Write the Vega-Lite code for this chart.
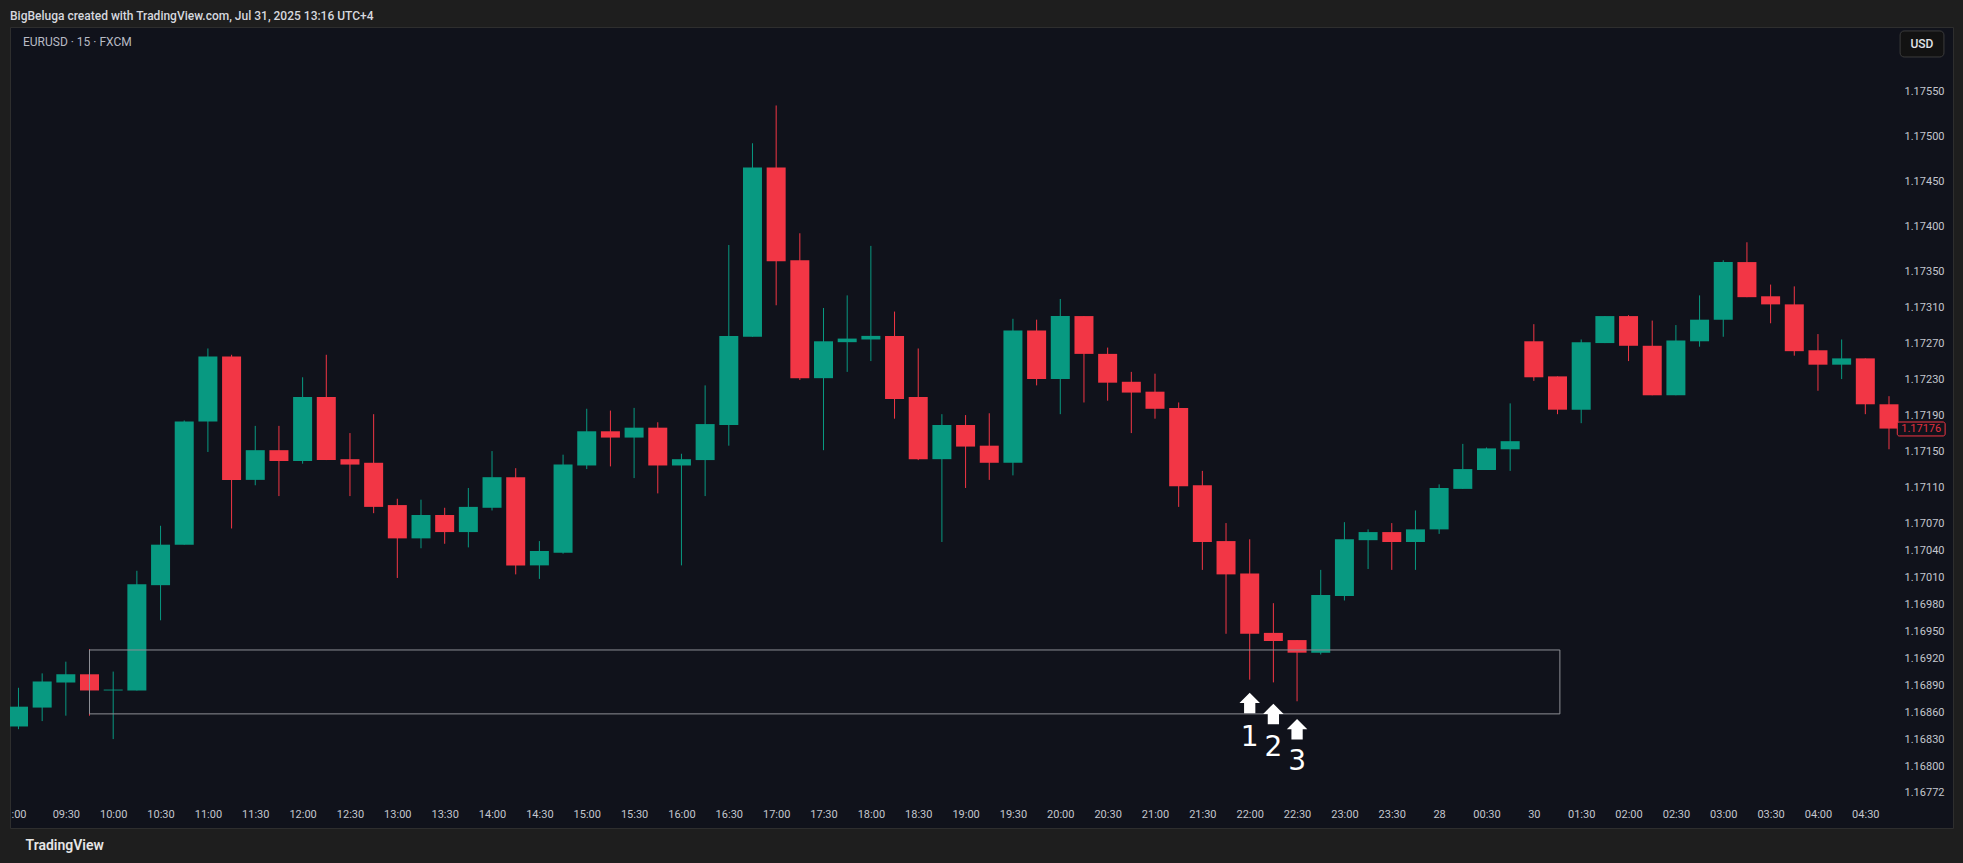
{
  "$schema": "https://vega.github.io/schema/vega-lite/v6.json",
  "autosize": {"type": "none"},
  "width": 1943,
  "height": 801,
  "padding": {"left": 10, "top": 27, "right": 10, "bottom": 35},
  "background": "#1e1e1e",
  "title": {
    "text": "BigBeluga created with TradingView.com, Jul 31, 2025 13:16 UTC+4",
    "anchor": "start",
    "frame": "group",
    "orient": "top",
    "offset": 7,
    "dy": 15,
    "baseline": "bottom",
    "font": "Roboto",
    "fontSize": 12,
    "fontWeight": 500,
    "color": "#d6d8de"
  },
  "config": {
    "view": {"fill": "#10121b", "stroke": "#2e2e2e", "strokeWidth": 1},
    "axis": {"grid": false, "domain": false, "ticks": false, "labelFont": "Roboto", "labelFontSize": 11, "labelColor": "#c3c6ce", "labelOverlap": false, "zindex": 1}
  },
  "datasets": {
    "bars": [
      {"i":0,"o":1.16845,"h":1.16888,"l":1.16842,"c":1.16867},
      {"i":1,"o":1.16866,"h":1.16904,"l":1.16851,"c":1.16895},
      {"i":2,"o":1.16894,"h":1.16917,"l":1.16857,"c":1.16903},
      {"i":3,"o":1.16903,"h":1.16931,"l":1.16857,"c":1.16885},
      {"i":4,"o":1.16885,"h":1.16906,"l":1.16831,"c":1.16886},
      {"i":5,"o":1.16885,"h":1.17018,"l":1.16885,"c":1.17003},
      {"i":6,"o":1.17002,"h":1.17068,"l":1.16963,"c":1.17047},
      {"i":7,"o":1.17047,"h":1.17185,"l":1.17047,"c":1.17184},
      {"i":8,"o":1.17184,"h":1.17265,"l":1.1715,"c":1.17256},
      {"i":9,"o":1.17256,"h":1.17258,"l":1.17065,"c":1.17119},
      {"i":10,"o":1.17119,"h":1.17179,"l":1.17113,"c":1.17152},
      {"i":11,"o":1.17152,"h":1.17179,"l":1.17101,"c":1.1714},
      {"i":12,"o":1.1714,"h":1.17233,"l":1.17137,"c":1.17211},
      {"i":13,"o":1.17211,"h":1.17258,"l":1.17141,"c":1.17141},
      {"i":14,"o":1.17142,"h":1.17171,"l":1.17101,"c":1.17136},
      {"i":15,"o":1.17138,"h":1.17192,"l":1.17082,"c":1.17089},
      {"i":16,"o":1.17091,"h":1.17098,"l":1.1701,"c":1.17054},
      {"i":17,"o":1.17054,"h":1.17097,"l":1.17043,"c":1.1708},
      {"i":18,"o":1.1708,"h":1.17088,"l":1.17048,"c":1.17061},
      {"i":19,"o":1.17061,"h":1.1711,"l":1.17044,"c":1.17089},
      {"i":20,"o":1.17088,"h":1.17151,"l":1.17085,"c":1.17122},
      {"i":21,"o":1.17122,"h":1.17132,"l":1.17014,"c":1.17024},
      {"i":22,"o":1.17024,"h":1.17051,"l":1.17009,"c":1.1704},
      {"i":23,"o":1.17038,"h":1.17147,"l":1.17037,"c":1.17136},
      {"i":24,"o":1.17135,"h":1.17198,"l":1.17131,"c":1.17173},
      {"i":25,"o":1.17173,"h":1.17196,"l":1.17134,"c":1.17166},
      {"i":26,"o":1.17166,"h":1.17199,"l":1.17121,"c":1.17177},
      {"i":27,"o":1.17177,"h":1.17183,"l":1.17104,"c":1.17135},
      {"i":28,"o":1.17135,"h":1.17148,"l":1.17024,"c":1.17142},
      {"i":29,"o":1.17141,"h":1.17224,"l":1.17101,"c":1.17181},
      {"i":30,"o":1.1718,"h":1.1738,"l":1.17157,"c":1.17279},
      {"i":31,"o":1.17278,"h":1.17493,"l":1.17278,"c":1.17466},
      {"i":32,"o":1.17466,"h":1.17535,"l":1.17313,"c":1.17362},
      {"i":33,"o":1.17363,"h":1.17393,"l":1.1723,"c":1.17232},
      {"i":34,"o":1.17232,"h":1.1731,"l":1.17152,"c":1.17273},
      {"i":35,"o":1.17272,"h":1.17324,"l":1.17239,"c":1.17276},
      {"i":36,"o":1.17275,"h":1.17379,"l":1.17251,"c":1.17279},
      {"i":37,"o":1.17279,"h":1.17306,"l":1.17187,"c":1.17209},
      {"i":38,"o":1.17211,"h":1.17265,"l":1.17141,"c":1.17142},
      {"i":39,"o":1.17142,"h":1.17192,"l":1.1705,"c":1.1718},
      {"i":40,"o":1.1718,"h":1.17191,"l":1.1711,"c":1.17156},
      {"i":41,"o":1.17157,"h":1.17193,"l":1.17119,"c":1.17138},
      {"i":42,"o":1.17138,"h":1.17298,"l":1.17124,"c":1.17285},
      {"i":43,"o":1.17285,"h":1.17297,"l":1.17224,"c":1.17231},
      {"i":44,"o":1.17231,"h":1.1732,"l":1.17192,"c":1.17301},
      {"i":45,"o":1.17301,"h":1.17301,"l":1.17205,"c":1.17259},
      {"i":46,"o":1.17259,"h":1.17266,"l":1.17207,"c":1.17227},
      {"i":47,"o":1.17228,"h":1.17239,"l":1.17171,"c":1.17216},
      {"i":48,"o":1.17217,"h":1.17237,"l":1.17187,"c":1.17198},
      {"i":49,"o":1.17199,"h":1.17205,"l":1.17089,"c":1.17112},
      {"i":50,"o":1.17113,"h":1.17129,"l":1.17019,"c":1.1705},
      {"i":51,"o":1.17051,"h":1.17071,"l":1.16948,"c":1.17014},
      {"i":52,"o":1.17015,"h":1.17053,"l":1.16897,"c":1.16948},
      {"i":53,"o":1.16949,"h":1.16982,"l":1.16894,"c":1.1694},
      {"i":54,"o":1.16941,"h":1.16941,"l":1.16873,"c":1.16927},
      {"i":55,"o":1.16927,"h":1.17019,"l":1.16925,"c":1.16991},
      {"i":56,"o":1.1699,"h":1.17072,"l":1.16985,"c":1.17053},
      {"i":57,"o":1.17052,"h":1.17064,"l":1.1702,"c":1.17061},
      {"i":58,"o":1.17061,"h":1.17071,"l":1.17019,"c":1.1705},
      {"i":59,"o":1.1705,"h":1.17085,"l":1.17019,"c":1.17064},
      {"i":60,"o":1.17064,"h":1.17114,"l":1.17059,"c":1.1711},
      {"i":61,"o":1.17109,"h":1.17159,"l":1.17109,"c":1.17131},
      {"i":62,"o":1.1713,"h":1.17155,"l":1.1713,"c":1.17154},
      {"i":63,"o":1.17153,"h":1.17204,"l":1.17129,"c":1.17162},
      {"i":64,"o":1.17273,"h":1.17292,"l":1.17229,"c":1.17233},
      {"i":65,"o":1.17234,"h":1.17234,"l":1.17192,"c":1.17197},
      {"i":66,"o":1.17197,"h":1.17275,"l":1.17182,"c":1.17272},
      {"i":67,"o":1.17271,"h":1.17301,"l":1.17271,"c":1.17301},
      {"i":68,"o":1.17301,"h":1.17302,"l":1.17251,"c":1.17268},
      {"i":69,"o":1.17268,"h":1.17296,"l":1.17213,"c":1.17213},
      {"i":70,"o":1.17213,"h":1.17291,"l":1.17213,"c":1.17274},
      {"i":71,"o":1.17273,"h":1.17324,"l":1.17267,"c":1.17297},
      {"i":72,"o":1.17297,"h":1.17363,"l":1.17278,"c":1.17361},
      {"i":73,"o":1.17361,"h":1.17383,"l":1.17322,"c":1.17322},
      {"i":74,"o":1.17323,"h":1.17336,"l":1.17293,"c":1.17314},
      {"i":75,"o":1.17314,"h":1.17334,"l":1.17257,"c":1.17262},
      {"i":76,"o":1.17263,"h":1.17281,"l":1.17218,"c":1.17247},
      {"i":77,"o":1.17247,"h":1.17275,"l":1.17231,"c":1.17254},
      {"i":78,"o":1.17254,"h":1.17254,"l":1.17192,"c":1.17203},
      {"i":79,"o":1.17203,"h":1.17212,"l":1.17153,"c":1.17176}
    ],
    "zone": [{"from": 3, "to": 65.1, "lo": 1.16859, "hi": 1.1693}],
    "arrows": [
      {"n": "1", "i": 52, "ap": 1.16871, "np": 1.16832},
      {"n": "2", "i": 53, "ap": 1.16859, "np": 1.16821},
      {"n": "3", "i": 54, "ap": 1.16842, "np": 1.16806}
    ],
    "single": [{"k": 1}]
  },
  "layer": [
    {
      "data": {"name": "bars"},
      "mark": {"type": "rule", "strokeWidth": 1, "clip": true},
      "encoding": {
        "x": {
          "field": "i", "type": "quantitative",
          "scale": {"domain": [-0.1471, 81.492], "nice": false, "zero": false},
          "axis": {
            "values": [0,2,4,6,8,10,12,14,16,18,20,22,24,26,28,30,32,34,36,38,40,42,44,46,48,50,52,54,56,58,60,62,64,66,68,70,72,74,76,78],
            "tickCount": 100,
            "labelExpr": "datum.value == 0 ? ':00' : datum.value == 60 ? '28' : datum.value == 64 ? '30' : ((floor((540 + 15 * datum.value) / 60) % 24) < 10 ? '0' : '') + (floor((540 + 15 * datum.value) / 60) % 24) + ':' + ((15 * datum.value) % 60 == 0 ? '00' : '30')",
            "offset": -14,
            "labelPadding": 0,
            "labelBaseline": "middle",
            "labelOverlap": false,
            "title": "TradingView",
            "titleX": 15,
            "titleY": 31,
            "titleAlign": "left",
            "titleBaseline": "middle",
            "titleFont": "Roboto",
            "titleFontSize": 14,
            "titleFontWeight": 600,
            "titleColor": "#e6e6e6"
          }
        },
        "y": {
          "field": "l", "type": "quantitative",
          "scale": {"domain": [1.167322, 1.176222], "nice": false, "zero": false},
          "axis": {
            "orient": "right",
            "values": [1.1755,1.175,1.1745,1.174,1.1735,1.1731,1.1727,1.1723,1.1719,1.1715,1.1711,1.1707,1.1704,1.1701,1.1698,1.1695,1.1692,1.1689,1.1686,1.1683,1.168,1.16772],
            "tickCount": 100,
            "format": ".5f",
            "offset": -9,
            "labelAlign": "right",
            "labelBaseline": "middle",
            "labelPadding": 0,
            "labelOverlap": false,
            "title": null
          }
        },
        "y2": {"field": "h"},
        "color": {"condition": {"test": "datum.c >= datum.o", "value": "#089981"}, "value": "#f23645"}
      }
    },
    {
      "data": {"name": "bars"},
      "mark": {"type": "bar", "size": 19, "clip": true},
      "encoding": {
        "x": {"field": "i", "type": "quantitative"},
        "y": {"field": "o", "type": "quantitative"},
        "y2": {"field": "c"},
        "color": {"condition": {"test": "datum.c >= datum.o", "value": "#089981"}, "value": "#f23645"}
      }
    },
    {
      "data": {"name": "zone"},
      "mark": {"type": "rect", "fill": "transparent", "stroke": "#8d8f96", "strokeWidth": 1},
      "encoding": {
        "x": {"field": "from", "type": "quantitative"},
        "x2": {"field": "to"},
        "y": {"field": "hi", "type": "quantitative"},
        "y2": {"field": "lo"}
      }
    },
    {
      "data": {"name": "arrows"},
      "mark": {"type": "point", "shape": "M0,-1L1,0L0.55,0L0.55,1L-0.55,1L-0.55,0L-1,0Z", "filled": true, "size": 420, "color": "#ffffff", "opacity": 1, "strokeWidth": 0},
      "encoding": {
        "x": {"field": "i", "type": "quantitative"},
        "y": {"field": "ap", "type": "quantitative"}
      }
    },
    {
      "data": {"name": "arrows"},
      "mark": {"type": "text", "font": "DejaVu Sans", "fontSize": 28, "color": "#ffffff", "align": "center", "baseline": "middle"},
      "encoding": {
        "x": {"field": "i", "type": "quantitative"},
        "y": {"field": "np", "type": "quantitative"},
        "text": {"field": "n"}
      }
    },
    {
      "data": {"name": "single"},
      "mark": {"type": "text", "font": "Roboto", "fontSize": 12, "color": "#b8bbc4", "align": "left", "baseline": "middle", "text": "EURUSD · 15 · FXCM"},
      "encoding": {
        "x": {"datum": 0.19, "type": "quantitative"},
        "y": {"datum": 1.176056, "type": "quantitative"}
      }
    },
    {
      "data": {"name": "single"},
      "mark": {"type": "rect", "fill": "#10121b", "stroke": "#f23645", "strokeWidth": 1, "cornerRadius": 2},
      "encoding": {
        "x": {"datum": 79.35, "type": "quantitative"},
        "x2": {"datum": 81.37},
        "y": {"datum": 1.171833, "type": "quantitative"},
        "y2": {"datum": 1.171678}
      }
    },
    {
      "data": {"name": "single"},
      "mark": {"type": "text", "font": "Roboto", "fontSize": 11, "color": "#e0303f", "align": "center", "baseline": "middle", "text": "1.17176"},
      "encoding": {
        "x": {"datum": 80.36, "type": "quantitative"},
        "y": {"datum": 1.171756, "type": "quantitative"}
      }
    },
    {
      "data": {"name": "single"},
      "mark": {"type": "rect", "fill": "#121212", "stroke": "#3c3c3c", "strokeWidth": 1, "cornerRadius": 4},
      "encoding": {
        "x": {"datum": 79.47, "type": "quantitative"},
        "x2": {"datum": 81.32},
        "y": {"datum": 1.176178, "type": "quantitative"},
        "y2": {"datum": 1.175889}
      }
    },
    {
      "data": {"name": "single"},
      "mark": {"type": "text", "font": "Roboto", "fontSize": 12, "fontWeight": 500, "color": "#e0e2e8", "align": "center", "baseline": "middle", "text": "USD"},
      "encoding": {
        "x": {"datum": 80.39, "type": "quantitative"},
        "y": {"datum": 1.176033, "type": "quantitative"}
      }
    }
  ]
}
